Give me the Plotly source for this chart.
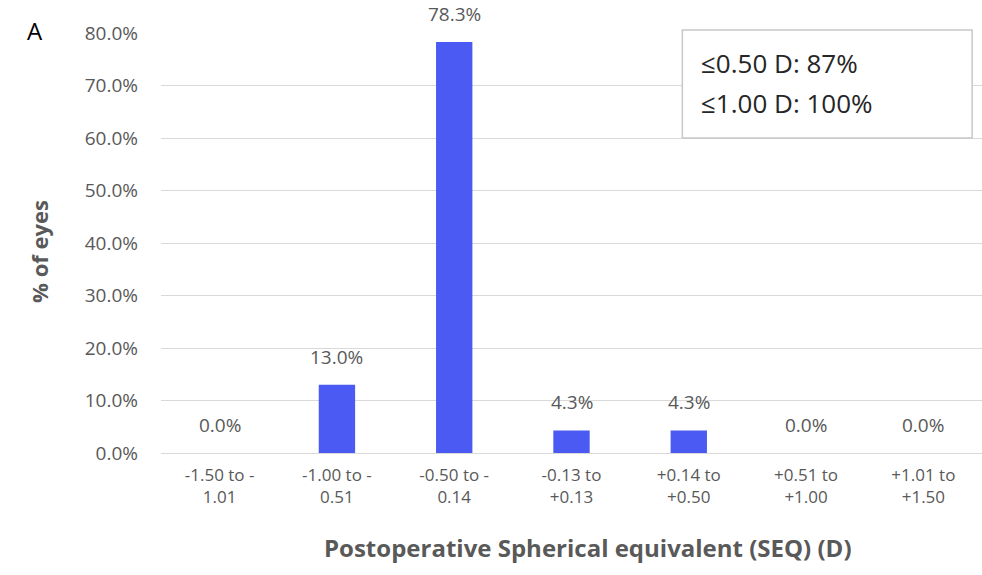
import plotly.graph_objects as go

categories = ["-1.50 to -<br>1.01", "-1.00 to -<br>0.51", "-0.50 to -<br>0.14", "-0.13 to<br>+0.13",
              "+0.14 to<br>+0.50", "+0.51 to<br>+1.00", "+1.01 to<br>+1.50"]
values = [0.0, 13.0, 78.3, 4.3, 4.3, 0.0, 0.0]
y_ticks = [0, 10, 20, 30, 40, 50, 60, 70, 80]
y_tick_labels = [f"{v:.1f}%" for v in y_ticks]
box_lines = ["≤0.50 D: 87%", "≤1.00 D: 100%"]

FONT = "Open Sans"
GREY = "#595959"

fig = go.Figure()
fig.add_trace(go.Bar(x=categories, y=values, marker_color="#4A5AF2", marker_line_width=0))

for c, v in zip(categories, values):
    fig.add_annotation(x=c, y=v, text=f"{v:.1f}%", showarrow=False, yshift=28,
                       font=dict(family=FONT, size=19, color=GREY))

fig.update_layout(
    width=982, height=575,
    margin=dict(l=161, r=0, t=33, b=122),
    plot_bgcolor="white", paper_bgcolor="white",
    bargap=0.69, showlegend=False,
    xaxis=dict(tickfont=dict(family=FONT, size=17, color=GREY), showgrid=False,
               showline=False, ticks="", ticklabelstandoff=10),
    yaxis=dict(range=[0, 80], tickvals=y_ticks, ticktext=y_tick_labels,
               tickfont=dict(family=FONT, size=19, color=GREY), gridcolor="#d9d9d9",
               gridwidth=1, zeroline=True, zerolinecolor="#d9d9d9", zerolinewidth=1,
               ticks="", ticklabelstandoff=22),
)

fig.add_shape(type="rect", xref="paper", yref="paper", x0=0.635, x1=0.988, y0=0.75, y1=1.007,
              line=dict(color="#c8c8c8", width=1.5), fillcolor="white", layer="above")
for i, t in enumerate(box_lines):
    fig.add_annotation(xref="paper", yref="paper", x=0.655, y=[0.929, 0.833][i], text=t,
                       xanchor="left", yanchor="middle", showarrow=False,
                       font=dict(family=FONT, size=26, color="#262626"))

fig.add_annotation(xref="paper", yref="paper", x=-0.153, y=1.007, text="A", showarrow=False,
                   xanchor="center", yanchor="middle", font=dict(family=FONT, size=24, color="black"))
fig.add_annotation(xref="paper", yref="paper", x=-0.148, y=0.48, text="<b>% of eyes</b>", textangle=-90,
                   showarrow=False, xanchor="center", yanchor="middle",
                   font=dict(family=FONT, size=22, color=GREY))
fig.add_annotation(xref="paper", yref="paper", x=0.52, y=-0.226,
                   text="<b>Postoperative Spherical equivalent (SEQ) (D)</b>", showarrow=False,
                   xanchor="center", yanchor="middle", font=dict(family=FONT, size=24, color=GREY))

fig.write_html("out.html")
